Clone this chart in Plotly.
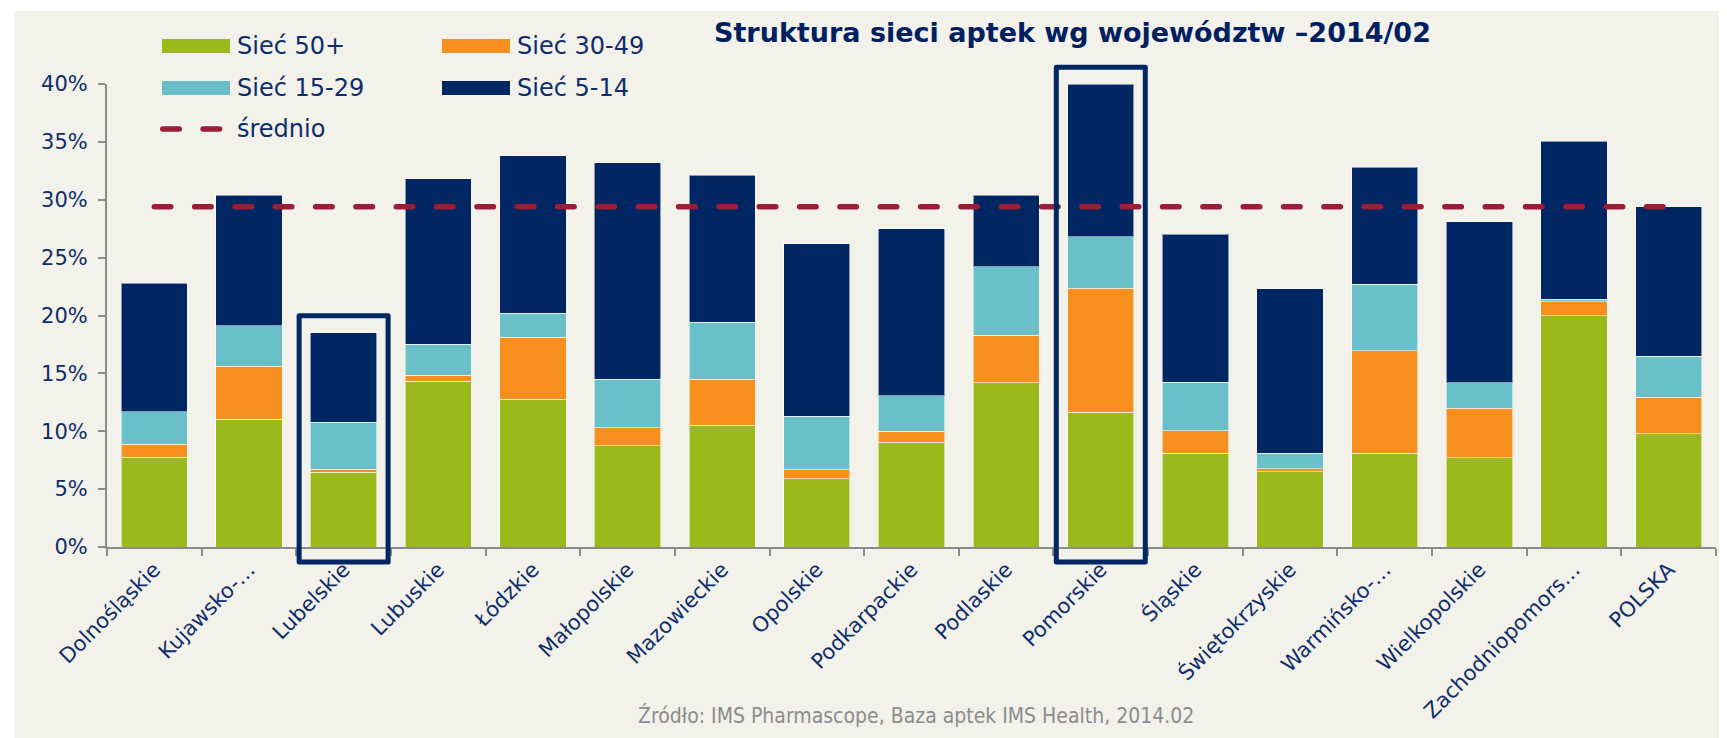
import plotly.graph_objects as go

# ---------------- data ----------------
categories = ["Dolnośląskie", "Kujawsko-…", "Lubelskie", "Lubuskie", "Łódzkie",
              "Małopolskie", "Mazowieckie", "Opolskie", "Podkarpackie", "Podlaskie",
              "Pomorskie", "Śląskie", "Świętokrzyskie", "Warmińsko-…", "Wielkopolskie",
              "Zachodniopomors…", "POLSKA"]
siec_50 = [7.75, 11.05, 6.44, 14.3, 12.76, 8.76, 10.5, 5.9, 9.05, 14.2,
           11.66, 8.12, 6.48, 8.1, 7.7, 20.0, 9.8]
siec_30_49 = [1.12, 4.55, 0.29, 0.56, 5.34, 1.54, 4.0, 0.77, 0.95, 4.1,
              10.71, 1.92, 0.28, 8.85, 4.3, 1.2, 3.15]
siec_15_29 = [2.83, 3.5, 4.03, 2.64, 2.1, 4.2, 4.9, 4.63, 3.05, 5.9,
              4.45, 4.21, 1.34, 5.75, 2.2, 0.2, 3.55]
siec_5_14 = [11.07, 11.3, 7.77, 14.3, 13.6, 18.7, 12.7, 14.9, 14.45, 6.2,
             13.18, 12.78, 14.2, 10.1, 13.9, 13.65, 12.9]
srednio = 29.4
highlighted = ["Lubelskie", "Pomorskie"]
y_ticks = [0, 5, 10, 15, 20, 25, 30, 35, 40]
y_tick_labels = [f"{v}%" for v in y_ticks]

series = [
    ("Sieć 50+", siec_50, "#9BB91A"),
    ("Sieć 30-49", siec_30_49, "#F78F1E"),
    ("Sieć 15-29", siec_15_29, "#6AC0C9"),
    ("Sieć 5-14", siec_5_14, "#002664"),
]
AVG_COLOR = "#9B1D36"
NAVY = "#0E2D6B"
BG = "#F2F1EA"
DASH = "16.5px,23.83px"

# ---------------- geometry (page pixels; figure sits at an 8px body offset) ----------------
W, H = 1727, 738
OFF = 8
L, T, PW, PH = 99, 76, 1609, 463
R = W - L - PW
B = H - T - PH
YMAX = 40


def px(xp):
    """page x pixel -> paper coordinate"""
    return (xp - OFF - L) / PW


def py(yp):
    """page y pixel -> paper coordinate"""
    return (T + PH + OFF - yp) / PH


fig = go.Figure()
for name, vals, col in series:
    fig.add_trace(go.Bar(
        x=categories, y=vals, name=name,
        marker=dict(color=col, line=dict(color="rgba(255,255,255,0.55)", width=1)),
        showlegend=False,
    ))

fig.add_trace(go.Scatter(
    x=categories, y=[srednio] * len(categories), name="średnio", mode="lines",
    line=dict(color=AVG_COLOR, width=5.5, dash=DASH), showlegend=False,
))

shapes = []
# thin white strips at the page edges
shapes.append(dict(type="rect", xref="paper", yref="paper", x0=px(0), x1=px(W + 20), y0=py(11), y1=py(0),
                   fillcolor="white", line=dict(width=0), layer="above"))
shapes.append(dict(type="rect", xref="paper", yref="paper", x0=px(0), x1=px(14), y0=py(H + 20), y1=py(0),
                   fillcolor="white", line=dict(width=0), layer="above"))

# highlight boxes
for c in highlighted:
    i = categories.index(c)
    total = siec_50[i] + siec_30_49[i] + siec_15_29[i] + siec_5_14[i]
    shapes.append(dict(type="rect", xref="x", yref="paper", x0=i - 0.47, x1=i + 0.47,
                       y0=-1.3 / YMAX, y1=(total + 1.45) / YMAX,
                       line=dict(color="#002664", width=5)))

annotations = []
# custom legend
col_x = [162, 442]
row_y = [46, 88, 129]
for k, (name, vals, col) in enumerate(series):
    cx = col_x[k % 2]
    ry = row_y[k // 2]
    shapes.append(dict(type="rect", xref="paper", yref="paper",
                       x0=px(cx), x1=px(cx + 68), y0=py(ry + 7), y1=py(ry - 7),
                       fillcolor=col, line=dict(width=0)))
    annotations.append(dict(xref="paper", yref="paper", x=px(cx + 73), y=py(ry),
                            text=name, showarrow=False, xanchor="left", yanchor="middle",
                            font=dict(family="DejaVu Sans", size=24, color=NAVY)))
shapes.append(dict(type="line", xref="paper", yref="paper",
                   x0=px(162.75), x1=px(220), y0=py(row_y[2]), y1=py(row_y[2]),
                   line=dict(color=AVG_COLOR, width=5.5, dash=DASH)))
annotations.append(dict(xref="paper", yref="paper", x=px(235), y=py(row_y[2]),
                        text="średnio", showarrow=False, xanchor="left", yanchor="middle",
                        font=dict(family="DejaVu Sans", size=24, color=NAVY)))

# title
annotations.append(dict(xref="paper", yref="paper", x=px(1072), y=py(33),
                        text="<b>Struktura sieci aptek wg województw –2014/02</b>",
                        showarrow=False, xanchor="center", yanchor="middle",
                        font=dict(family="DejaVu Sans", size=27, color="#002060")))
# source
annotations.append(dict(xref="paper", yref="paper", x=px(916), y=py(715),
                        text="Źródło: IMS Pharmascope, Baza aptek IMS Health, 2014.02",
                        showarrow=False, xanchor="center", yanchor="middle",
                        font=dict(family="DejaVu Sans Condensed, DejaVu Sans", size=21,
                                  color="#8C8C8C")))

fig.update_layout(
    width=W, height=H,
    margin=dict(l=L, r=R, t=T, b=B, pad=0),
    paper_bgcolor=BG, plot_bgcolor=BG,
    barmode="stack", bargap=0.30,
    showlegend=False,
    shapes=shapes, annotations=annotations,
    xaxis=dict(
        type="category", range=[-0.5, len(categories) - 0.5],
        showline=True, linecolor="#8C8C8C", linewidth=2,
        ticks="outside", tickson="boundaries", ticklen=7, tickcolor="#8C8C8C", tickwidth=2,
        tickangle=-45, tickfont=dict(family="DejaVu Sans", size=21, color=NAVY),
        showgrid=False, zeroline=False,
    ),
    yaxis=dict(
        range=[0, YMAX], tickvals=y_ticks, ticktext=y_tick_labels,
        showline=True, linecolor="#8C8C8C", linewidth=2,
        ticks="outside", ticklen=7, tickcolor="#8C8C8C", tickwidth=2, ticklabelstandoff=6,
        tickfont=dict(family="DejaVu Sans", size=21, color=NAVY),
        showgrid=False, zeroline=False,
    ),
)

post = """
var gd = document.getElementById('{plot_id}');
function fixCaps(){
  gd.querySelectorAll('.scatterlayer .js-line').forEach(function(p){p.style.strokeLinecap='round';});
  gd.querySelectorAll('.shapelayer path').forEach(function(p){p.style.strokeLinecap='round'; p.style.strokeLinejoin='round';});
}
fixCaps();
gd.on('plotly_afterplot', fixCaps);
"""
fig.write_html("out.html", post_script=post)
